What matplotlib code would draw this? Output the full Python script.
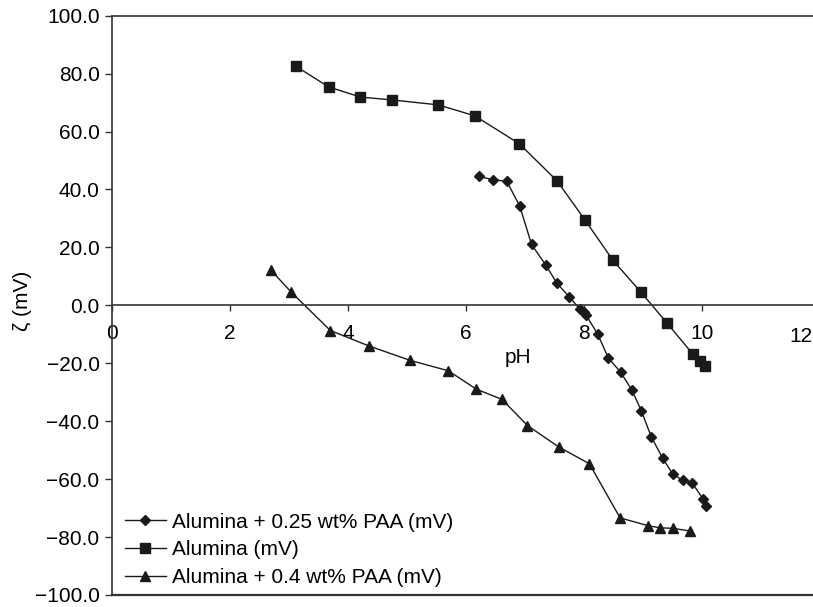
import matplotlib.pyplot as plt
import matplotlib.ticker as mticker

plt.rcParams['font.family'] = ['Liberation Sans', 'DejaVu Sans']

# Alumina + 0.25 wt% PAA
ph_025 = [6.22, 6.45, 6.69, 6.91, 7.11, 7.35, 7.54, 7.75, 7.93, 7.99, 8.03,
          8.23, 8.41, 8.62, 8.81, 8.97, 9.14, 9.33, 9.50, 9.67, 9.83, 10.02, 10.07]
zeta_025 = [44.5, 43.4, 42.8, 34.2, 21.0, 13.9, 7.6, 2.9, -1.4, -2.4, -3.3,
            -9.9, -18.2, -23.1, -29.3, -36.4, -45.5, -52.7, -58.2, -60.4, -61.3, -67.0, -69.3]

# Alumina
ph_al = [3.11, 3.67, 4.21, 4.75, 5.53, 6.15, 6.90, 7.54, 8.01, 8.49, 8.96, 9.40,
         9.84, 9.97, 10.05]
zeta_al = [82.6, 75.4, 71.9, 70.9, 69.2, 65.4, 55.8, 43.0, 29.6, 15.5, 4.6, -6.0,
           -16.8, -19.3, -20.8]

# Alumina + 0.4 wt% PAA
ph_04 = [2.69, 3.03, 3.70, 4.35, 5.05, 5.70, 6.17, 6.61, 7.04, 7.57, 8.09, 8.61,
         9.09, 9.28, 9.51, 9.79]
zeta_04 = [12.2, 4.7, -8.7, -14.0, -19.0, -22.6, -28.9, -32.5, -41.5, -48.9, -54.7,
           -73.4, -76.1, -76.8, -77.0, -77.9]

xticks = [0, 2, 4, 6, 8, 10, 12]
xtick_labels = ['0', '2', '4', '6', '8', '10', '']
yticks = [-100, -80, -60, -40, -20, 0, 20, 40, 60, 80, 100]

fs = 15

fig = plt.figure(figsize=(8.13, 6.07), dpi=100)
ax = fig.add_axes([0.1378, 0.0198, 0.871, 0.9544])

lc = '#1a1a1a'
ax.plot(ph_025, zeta_025, color=lc, lw=1.0, marker='D', ms=5.5,
        label='Alumina + 0.25 wt% PAA (mV)')
ax.plot(ph_al, zeta_al, color=lc, lw=1.0, marker='s', ms=6.5,
        label='Alumina (mV)')
ax.plot(ph_04, zeta_04, color=lc, lw=1.0, marker='^', ms=7,
        label='Alumina + 0.4 wt% PAA (mV)')

ax.set_xlim(0, 12)
ax.set_ylim(-100, 100)
ax.set_xticks(xticks)
ax.set_xticklabels(xtick_labels)
ax.set_yticks(yticks)
ax.yaxis.set_major_formatter(mticker.FuncFormatter(
    lambda v, p: f'{v:.1f}'.replace('-', '\u2212')))

spine_c = '#333333'
ax.spines['bottom'].set_position(('data', 0))
for s in ['left', 'bottom', 'top', 'right']:
    ax.spines[s].set_color(spine_c)
    ax.spines[s].set_linewidth(1.2)
ax.axhline(-100, color=spine_c, lw=1.6, clip_on=False)

ax.tick_params(axis='y', direction='out', length=5, width=1, pad=4,
               labelsize=fs, color=spine_c)
ax.tick_params(axis='x', direction='out', length=4, width=1, pad=9.5,
               labelsize=fs, color=spine_c)

# the last x label sits at the cropped right edge of the picture
fig.text(0.9995, 1 - 336 / 607, '12', ha='right', va='center', fontsize=fs)

ax.text(6.88, -18, 'pH', ha='center', va='center', fontsize=fs)
fig.text(0.028, 0.505, '\u03b6 (mV)', rotation=90, ha='center', va='center',
         fontsize=fs)

ax.legend(loc='lower left', bbox_to_anchor=(0.0, -0.008), frameon=False,
          fontsize=fs, handlelength=2.0, handletextpad=0.3, labelspacing=0.42,
          borderaxespad=0.2)

fig.savefig('out.png', dpi=100)
